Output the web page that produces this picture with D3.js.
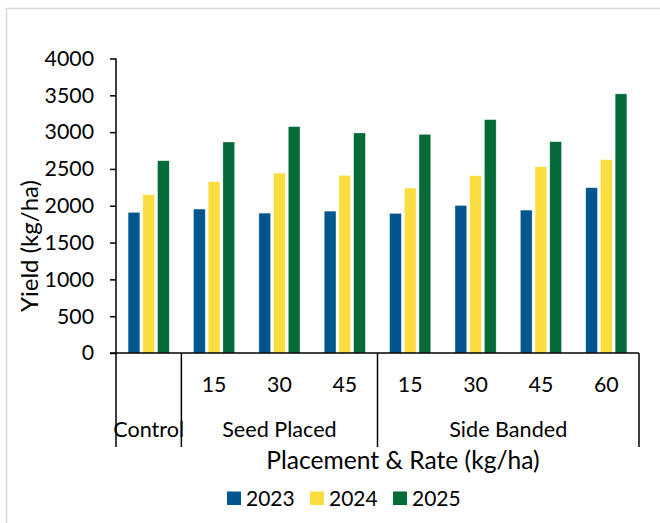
<!DOCTYPE html>
<html>
<head>
<meta charset="utf-8">
<script src="https://cdn.jsdelivr.net/npm/d3@7"></script>
<style>
  html, body { margin: 0; padding: 0; background: #fff; }
  svg { display: block; }
  text { font-family: Lato, "Open Sans", sans-serif; fill: #000; }
</style>
</head>
<body>
<svg id="chart" width="660" height="523"></svg>
<script>
// ---- data ----
const categories = ["Control", "SP15", "SP30", "SP45", "SB15", "SB30", "SB45", "SB60"];
const rateLabels = ["", "15", "30", "45", "15", "30", "45", "60"];
const groups = [
  { name: "Control", from: 0, to: 1 },
  { name: "Seed Placed", from: 1, to: 4 },
  { name: "Side Banded", from: 4, to: 8 }
];
const seriesNames = ["2023", "2024", "2025"];
const values2023 = [1910, 1955, 1900, 1927, 1896, 2004, 1941, 2245];
const values2024 = [2150, 2326, 2444, 2413, 2240, 2408, 2530, 2626];
const values2025 = [2612, 2866, 3075, 2989, 2970, 3170, 2870, 3520];
const yTicks = [0, 500, 1000, 1500, 2000, 2500, 3000, 3500, 4000];
const colors = ["#02568f", "#fcdd3f", "#046b38"];

const seriesValues = [values2023, values2024, values2025];

(function () {
const svg = d3.select("#chart");

// frame
svg.append("path")
  .attr("d", "M6.5,530 L6.5,8.5 L670,8.5")
  .attr("fill", "none").attr("stroke", "#d9d9d9").attr("stroke-width", 1.5);

const pLeft = 116, pRight = 639, pTop = 58.5, pBottom = 353, catBottom = 447;

const y = d3.scaleLinear().domain([0, 4000]).range([pBottom, pTop]);
const x0 = d3.scaleBand().domain(categories).range([pLeft, pRight]).padding(0);
const x1 = d3.scaleBand().domain(seriesNames).range([0, x0.bandwidth()])
  .paddingInner(0.2).paddingOuter(0.823);

// bars
const rows = categories.map((c, i) => ({ cat: c, vals: seriesNames.map((s, j) => ({ s, j, v: seriesValues[j][i] })) }));
svg.append("g").selectAll("g.cat").data(rows).join("g")
  .attr("transform", d => `translate(${x0(d.cat)},0)`)
  .selectAll("rect").data(d => d.vals).join("rect")
  .attr("x", d => x1(d.s))
  .attr("width", x1.bandwidth())
  .attr("y", d => y(d.v))
  .attr("height", d => y(0) - y(d.v))
  .attr("fill", d => colors[d.j])
  .attr("stroke", "#ffffff").attr("stroke-opacity", 0.6).attr("stroke-width", 0.6);

// y axis
const yAxis = d3.axisLeft(y).tickValues(yTicks).tickSize(6).tickPadding(16).tickFormat(d3.format("d"));
const ya = svg.append("g").attr("transform", `translate(${pLeft},0)`).call(yAxis);
ya.select(".domain").remove();
ya.selectAll(".tick line").attr("stroke", "#000").attr("stroke-width", 1.5);
ya.selectAll(".tick text").attr("font-size", 21.3).attr("font-family", "Lato, sans-serif").attr("fill", "#000");

// axis lines
const lines = svg.append("g").attr("stroke", "#000").attr("stroke-width", 1.5);
lines.append("line").attr("x1", pLeft).attr("x2", pLeft).attr("y1", pTop).attr("y2", catBottom);
lines.append("line").attr("x1", pLeft - 6).attr("x2", pRight).attr("y1", pBottom).attr("y2", pBottom);
groups.forEach(gr => {
  const bx = gr.to < categories.length ? x0(categories[gr.to]) : pRight;
  lines.append("line").attr("x1", bx).attr("x2", bx).attr("y1", pBottom).attr("y2", catBottom);
});

// inner labels
svg.append("g").selectAll("text").data(categories).join("text")
  .attr("x", d => x0(d) + x0.bandwidth() / 2)
  .attr("y", 392)
  .attr("text-anchor", "middle")
  .attr("font-size", 21.3)
  .text((d, i) => rateLabels[i]);

// group labels
svg.append("g").selectAll("text").data(groups).join("text")
  .attr("x", d => {
    const a = x0(categories[d.from]);
    const b = d.to < categories.length ? x0(categories[d.to]) : pRight;
    return (a + b) / 2;
  })
  .attr("y", 437)
  .attr("text-anchor", "middle")
  .attr("font-size", 21.6)
  .text(d => d.name);

// titles
svg.append("text").attr("x", 403).attr("y", 469).attr("text-anchor", "middle")
  .attr("font-size", 24.6).text("Placement & Rate (kg/ha)");
svg.append("text").attr("transform", "translate(38,246) rotate(-90)").attr("text-anchor", "middle")
  .attr("font-size", 24).text("Yield (kg/ha)");

// legend
const legX = [227, 310, 393];
const leg = svg.append("g").selectAll("g").data(seriesNames).join("g")
  .attr("transform", (d, i) => `translate(${legX[i]},491.5)`);
leg.append("rect").attr("width", 14).attr("height", 13.5).attr("fill", (d, i) => colors[i]);
leg.append("text").attr("x", 19).attr("y", 14).attr("font-size", 21).text(d => d);
})();
</script>
</body>
</html>
